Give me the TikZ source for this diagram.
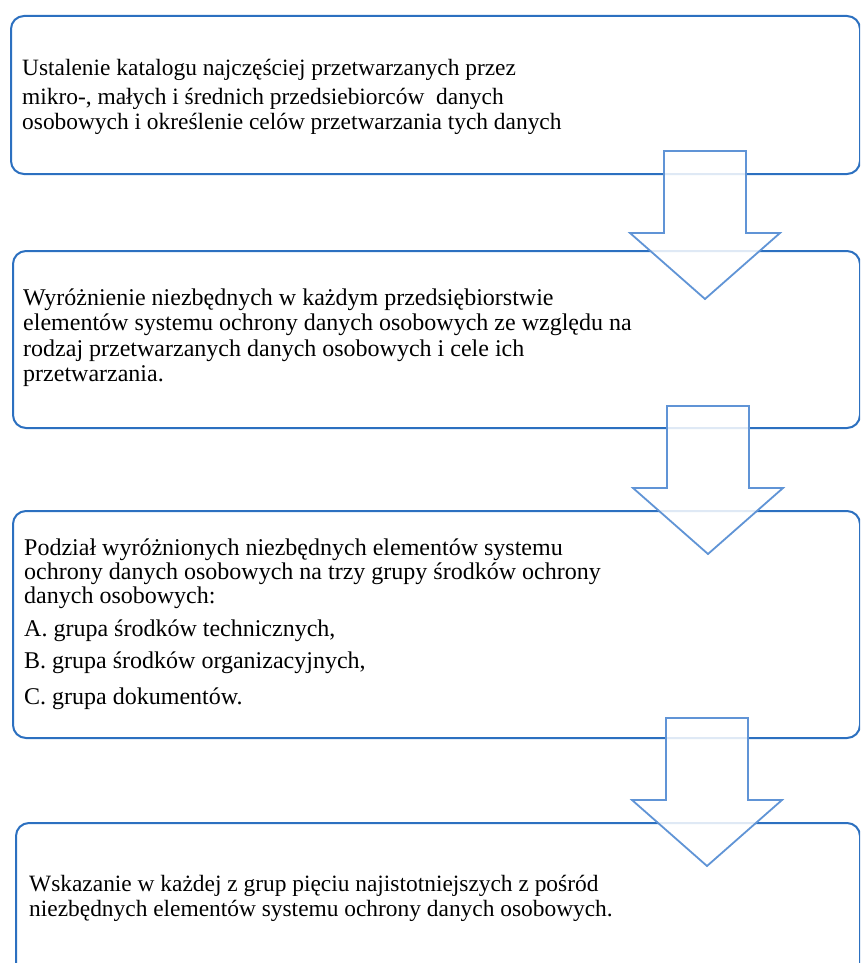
\documentclass[tikz,border=0pt]{standalone}
\usepackage{fontspec}
\setmainfont{Liberation Serif}
\definecolor{frameblue}{RGB}{44,112,192}
\definecolor{arrowblue}{RGB}{96,148,214}
\begin{document}
\begin{tikzpicture}[x=1pt,y=-1pt,
  stepframe/.style={draw=frameblue, line width=2pt, rounded corners=13pt,
    inner sep=0pt, anchor=north west},
  steptext/.style={anchor=base west, inner sep=0pt, text=black,
    font=\fontsize{24}{26}\selectfont},
  steptextnarrow/.style={steptext, font=\fontsize{23.4}{26}\selectfont},
  flowarrow/.style={draw=arrowblue, line width=1.8pt, fill=white,
    fill opacity=0.85, line join=miter},
  stepdownarrow/.pic={
    \draw[flowarrow] (-41,0) -- (41,0) -- (41,82) -- (75,82) -- (0,148)
      -- (-75,82) -- (-41,82) -- cycle;
  }]
\useasboundingbox (0,0) rectangle (860,963);
\fill[white] (0,0) rectangle (860,963);
\clip (0,0) rectangle (860,963);

% step frames
\node[stepframe, minimum width=849pt, minimum height=158pt] (s1) at (10,15) {};
\node[stepframe, minimum width=847pt, minimum height=177pt] (s2) at (12,250) {};
\node[stepframe, minimum width=847pt, minimum height=227pt] (s3) at (12,510) {};
\node[stepframe, minimum width=844pt, minimum height=220pt] (s4) at (15,822) {};

% step 1
\node[steptextnarrow] (t1a) at (22,76) {Ustalenie katalogu najczęściej przetwarzanych przez};
\node[steptextnarrow] (t1b) at (22,105) {mikro-, małych i średnich przedsiebiorców~ danych};
\node[steptextnarrow] (t1c) at (22,130) {osobowych i określenie celów przetwarzania tych danych};

% step 2
\node[steptext] (t2a) at (23,305) {Wyróżnienie niezbędnych w każdym przedsiębiorstwie};
\node[steptext] (t2b) at (23,330) {elementów systemu ochrony danych osobowych ze względu na};
\node[steptext] (t2c) at (23,356) {rodzaj przetwarzanych danych osobowych i cele ich};
\node[steptext] (t2d) at (23,381) {przetwarzania.};

% step 3
\node[steptext] (t3a) at (24,555) {Podział wyróżnionych niezbędnych elementów systemu};
\node[steptext] (t3b) at (24,579) {ochrony danych osobowych na trzy grupy środków ochrony};
\node[steptext] (t3c) at (24,603) {danych osobowych:};
\node[steptext] (t3d) at (24,636) {A. grupa środków technicznych,};
\node[steptext] (t3e) at (24,668) {B. grupa środków organizacyjnych,};
\node[steptext] (t3f) at (24,704) {C. grupa dokumentów.};

% step 4
\node[steptextnarrow] (t4a) at (29,891) {Wskazanie w każdej z grup pięciu najistotniejszych z pośród};
\node[steptextnarrow] (t4b) at (29,916) {niezbędnych elementów systemu ochrony danych osobowych.};

% block arrows between the steps
\pic (a1) at (705,151) {stepdownarrow};
\pic (a2) at (708,406) {stepdownarrow};
\pic (a3) at (707,718) {stepdownarrow};
\end{tikzpicture}
\end{document}
